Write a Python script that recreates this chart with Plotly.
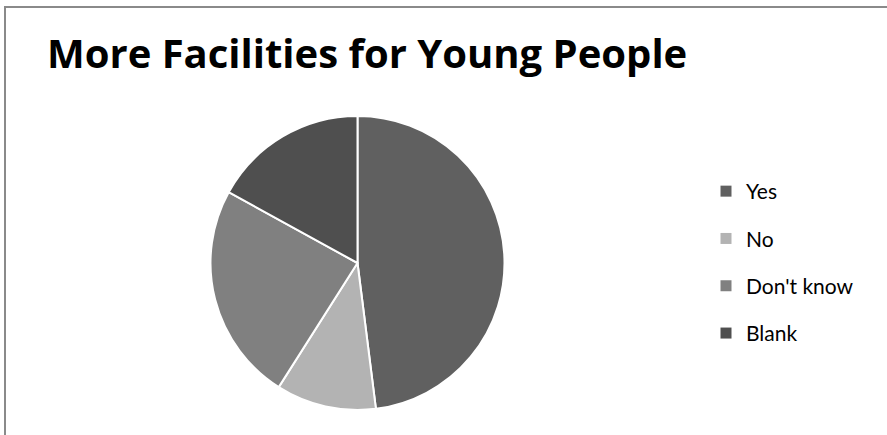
import plotly.graph_objects as go

labels = ["Yes", "No", "Don't know", "Blank"]
values = [48, 11, 24, 17]
colors = ["#606060", "#b3b3b3", "#808080", "#4f4f4f"]
title_text = "More Facilities for Young People"

W, H = 887, 435

fig = go.Figure()
fig.add_trace(go.Pie(
    labels=labels, values=values, sort=False, direction="clockwise", rotation=0,
    marker=dict(colors=colors, line=dict(color="white", width=2)),
    textinfo="none", hoverinfo="label+percent", showlegend=False,
    domain=dict(x=[210.5 / W, 504.5 / W], y=[1 - 410 / H, 1 - 116 / H]),
))
for lab, col in zip(labels, colors):
    fig.add_trace(go.Scatter(
        x=[None], y=[None], mode="markers", name=lab, legendgroup=lab,
        marker=dict(symbol="square", size=11, color=col),
    ))

fig.update_layout(
    width=W, height=H,
    margin=dict(l=0, r=0, t=0, b=0),
    paper_bgcolor="white", plot_bgcolor="white",
    xaxis=dict(visible=False), yaxis=dict(visible=False),
    title=dict(text="<b>" + title_text + "</b>", x=47 / W, xanchor="left",
               y=1 - 40 / H, yanchor="top", xref="paper", yref="paper",
               font=dict(family="Open Sans", size=40, color="black")),
    legend=dict(x=706 / W, xanchor="left", y=1 - 171 / H, yanchor="top",
                font=dict(family="Lato", size=21, color="black"),
                tracegroupgap=17, itemwidth=30, bgcolor="rgba(0,0,0,0)"),
    shapes=[dict(type="rect", xref="paper", yref="paper",
                 x0=5 / W, x1=1.05, y0=-0.05, y1=1 - 7 / H,
                 line=dict(color="#8a8a8a", width=2))],
)
fig.write_html("out.html", config={"displayModeBar": False},
               post_script="document.body.style.margin='0';")
